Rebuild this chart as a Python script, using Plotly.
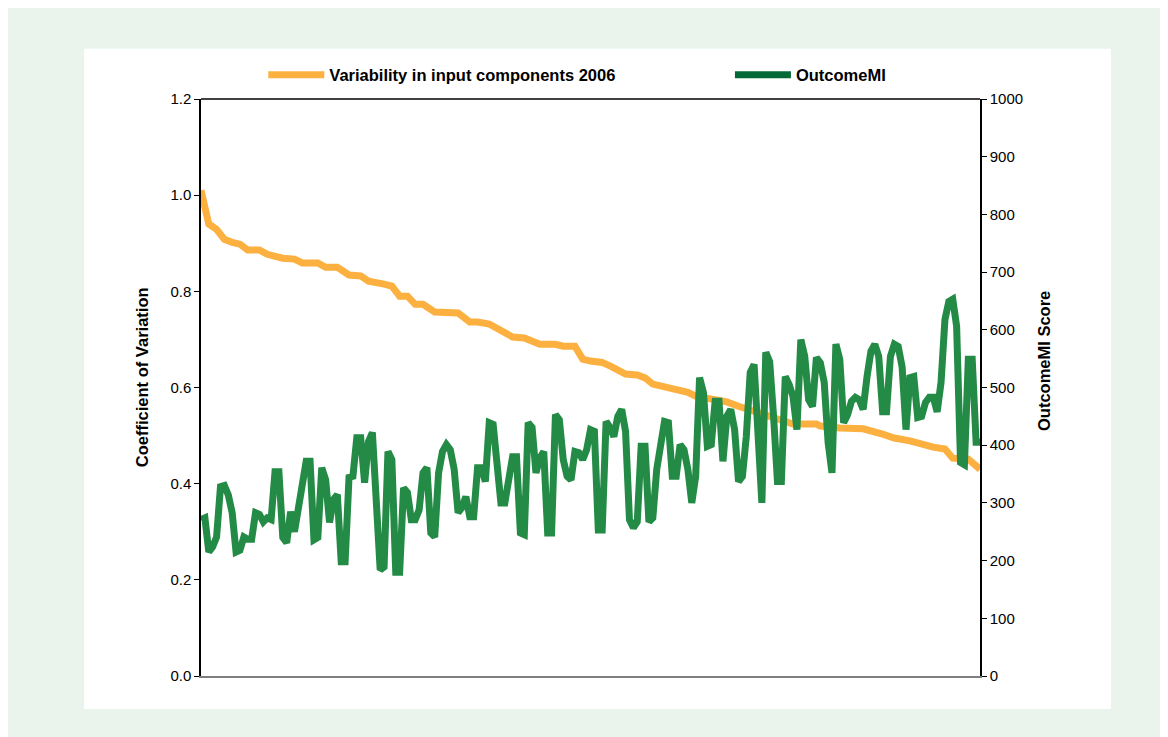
import plotly.graph_objects as go

# OutcomeMI score per unit, units ranked by coefficient of variation (high -> low)
outcome_mi = [
    271, 274, 215, 224, 241, 328, 330, 314, 283, 215,
    218, 241, 237, 237, 283, 280, 267, 274, 271, 354,
    354, 240, 231, 285, 250, 293, 340, 372, 372, 236,
    240, 361, 340, 266, 306, 314, 198, 198, 344, 346,
    413, 413, 335, 406, 422, 302, 184, 189,
    389, 375, 180, 180, 326, 318, 271, 271, 288, 352,
    361, 248, 241, 352, 389, 401, 392, 358, 283, 292,
    311, 276, 276, 361, 361, 337, 439, 436, 363, 300,
    300, 346, 380, 380, 248, 245, 439, 431, 352, 378,
    389, 248, 248, 453, 444, 375, 346, 340, 389, 387,
    375, 392,
    427, 424, 253, 253, 441, 431, 415, 450, 462, 424,
    271, 257, 267, 398, 398, 267, 274, 358, 410, 441,
    439, 346, 346, 401, 392, 358, 300, 346, 517, 491,
    398, 401, 476, 476, 372, 450, 462, 427, 337, 346,
    415, 526, 540, 432, 300, 561, 545, 450, 337, 337,
    519,
    505, 484, 427, 583, 554, 479, 467, 552, 543, 509,
    405, 352, 575, 549, 439, 453, 476, 483, 479, 462,
    519, 563, 575, 554, 458, 458, 554, 575, 571, 536,
    427, 517, 519, 448, 450, 474, 483, 483, 458, 509,
    618, 649, 653, 606, 370, 366, 549, 549, 405, 405,
]
units = list(range(1, len(outcome_mi) + 1))

# variability (coefficient of variation) read at selected ranks
cv_rank = [1, 2, 3, 5, 7, 9, 11, 13, 16, 18, 20, 22, 25, 27, 31, 33, 36, 39, 42, 44,
           48, 50, 52, 54, 56, 58, 61, 64, 67, 70, 72, 75, 77, 79, 81, 84, 88, 92, 94, 97,
           99, 101, 104, 106, 110, 113, 115, 117, 121, 123, 126, 128, 133, 136, 139, 142, 145, 149, 151, 153,
           159, 160, 165, 171, 176, 179, 183, 186, 189, 192, 194, 198, 201]
cv_value = [1.01, 0.97, 0.94, 0.929, 0.908, 0.902, 0.898, 0.886, 0.886, 0.877,
            0.873, 0.869, 0.867, 0.859, 0.859, 0.85, 0.85, 0.834, 0.832, 0.821,
            0.815, 0.811, 0.79, 0.79, 0.773, 0.773, 0.757, 0.755, 0.755, 0.736,
            0.736, 0.732, 0.724, 0.717, 0.705, 0.703, 0.69, 0.69, 0.686, 0.686,
            0.659, 0.655, 0.652, 0.645, 0.628, 0.626, 0.62, 0.607, 0.599, 0.595,
            0.59, 0.582, 0.576, 0.57, 0.561, 0.553, 0.545, 0.534, 0.53, 0.524,
            0.524, 0.52, 0.516, 0.514, 0.503, 0.495, 0.489, 0.482, 0.476, 0.472,
            0.453, 0.451, 0.43]

ORANGE = "#FBB040"
GREEN = "#238B45"
GREEN_KEY = "#036A37"
FONT = "Liberation Sans, Arial, sans-serif"

fig = go.Figure()
fig.add_trace(go.Scatter(x=cv_rank, y=cv_value, mode="lines",
                         line=dict(color=ORANGE, width=7), showlegend=False))
fig.add_trace(go.Scatter(x=units, y=outcome_mi, mode="lines", yaxis="y2",
                         line=dict(color=GREEN, width=7), showlegend=False))
# legend keys
fig.add_trace(go.Scatter(x=[None], y=[None], mode="lines", name="Variability in input components 2006",
                         line=dict(color=ORANGE, width=7), legend="legend"))
fig.add_trace(go.Scatter(x=[None], y=[None], mode="lines", name="OutcomeMI",
                         line=dict(color=GREEN_KEY, width=7), legend="legend2"))

legend_style = dict(orientation="h", xanchor="left", y=1.0416, yanchor="middle",
                    font=dict(size=16.5, weight="bold"), itemwidth=56,
                    bgcolor="rgba(0,0,0,0)")

fig.update_layout(
    width=1168, height=737,
    margin=dict(l=193, r=196, t=91, b=69),
    paper_bgcolor="#EAF4EC",
    plot_bgcolor="white",
    font=dict(family=FONT, size=15, color="black"),
    xaxis=dict(range=[1, len(outcome_mi)], showticklabels=False, ticks="",
               showgrid=False, zeroline=False, showline=True, linecolor="#7F7F7F", linewidth=1.5),
    yaxis=dict(range=[0, 1.2], dtick=0.2, tickformat=".1f", ticks="outside", ticklen=5,
               tickcolor="black", showgrid=False, zeroline=False,
               showline=True, linecolor="black", linewidth=1.5),
    yaxis2=dict(range=[0, 1000], dtick=100, overlaying="y", side="right", ticks="outside",
                ticklen=5, tickcolor="black", showgrid=False, zeroline=False,
                showline=True, linecolor="black", linewidth=1.5),
    legend=dict(x=0.080, **legend_style),
    legend2=dict(x=0.679, **legend_style),
    shapes=[
        dict(type="rect", xref="paper", yref="paper", x0=-0.150, x1=1.168, y0=-0.057, y1=1.087,
             fillcolor="white", line=dict(width=0), layer="below"),
        dict(type="line", xref="paper", yref="paper", x0=0, x1=1, y0=1, y1=1,
             line=dict(color="black", width=1.5)),
    ],
    annotations=[
        dict(text="<b>Coefficient of Variation</b>", xref="paper", yref="paper",
             x=-0.0757, y=0.518, textangle=-90, showarrow=False,
             xanchor="center", yanchor="middle", font=dict(size=16.5)),
        dict(text="<b>OutcomeMI Score</b>", xref="paper", yref="paper",
             x=1.0822, y=0.546, textangle=-90, showarrow=False,
             xanchor="center", yanchor="middle", font=dict(size=16.5)),
    ],
)

fig.write_html("out.html")
